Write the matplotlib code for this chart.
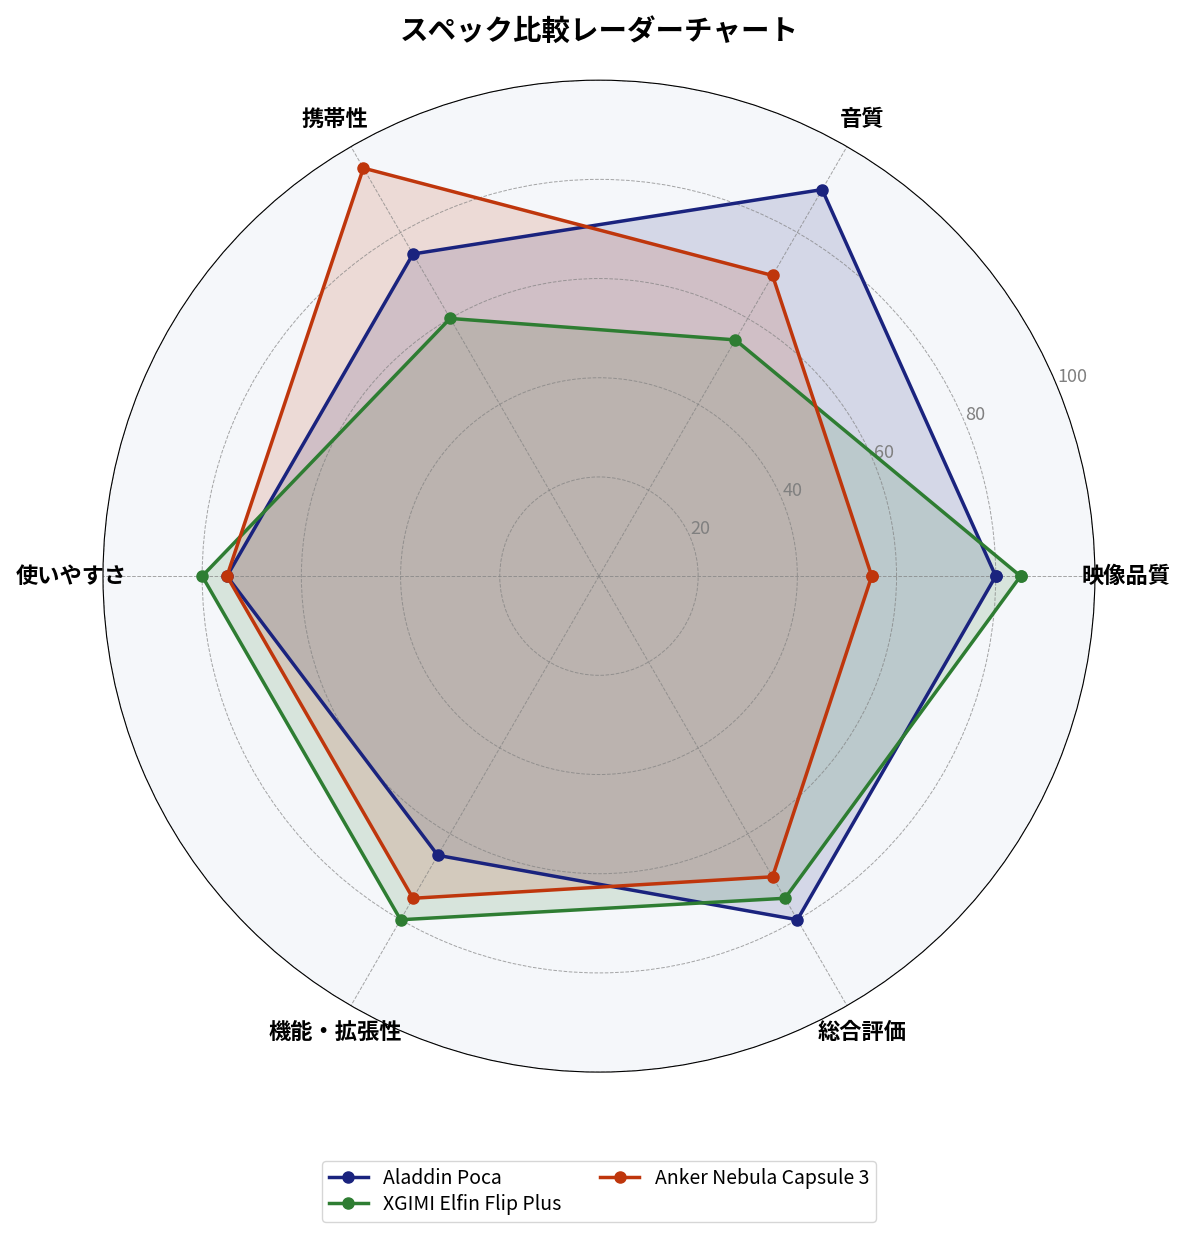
import numpy as np
import matplotlib
matplotlib.use("Agg")
import matplotlib.pyplot as plt

plt.rcParams['font.family'] = ['Noto Sans CJK JP', 'DejaVu Sans']

# データ
categories = ["映像品質", "音質", "携帯性", "使いやすさ", "機能・拡張性", "総合評価"]
names = ["Aladdin Poca", "XGIMI Elfin Flip Plus", "Anker Nebula Capsule 3"]
aladdin = [80, 90, 75, 75, 65, 80]
xgimi = [85, 55, 60, 80, 80, 75]
anker = [55, 70, 95, 75, 75, 70]
colors = ["#1a237e", "#2e7d32", "#bf360c"]
r_ticks = [20, 40, 60, 80, 100]

n = len(categories)
angles = np.linspace(0, 2 * np.pi, n, endpoint=False).tolist()
angles += angles[:1]

fig = plt.figure(figsize=(11.85, 12.39), dpi=100)
ax = fig.add_axes([0.0869, 0.1347, 0.8371, 0.8006], polar=True)
ax.set_facecolor("#f5f7fa")

for name, vals, c in zip(names, [aladdin, xgimi, anker], colors):
    v = vals + vals[:1]
    ax.plot(angles, v, color=c, linewidth=2.5, marker="o", markersize=8, label=name)
    ax.fill(angles, v, color=c, alpha=0.15)

ax.set_ylim(0, 100)
ax.set_yticks(r_ticks)
ax.set_yticklabels([str(t) for t in r_ticks], color="grey", fontsize=13)
ax.set_rlabel_position(22.5)
ax.set_xticks(angles[:-1])
ax.set_xticklabels(categories, fontsize=16, fontweight="bold")
ax.tick_params(axis="x", pad=12)
ax.grid(color="grey", linestyle="--", linewidth=0.7, alpha=0.7)

ax.set_title("スペック比較レーダーチャート", fontsize=20.5, fontweight="bold", pad=29)
ax.legend(loc="upper center", bbox_to_anchor=(0.5, -0.08), ncol=2, fontsize=14,
          labelspacing=0.25, borderpad=0.35)

fig.savefig("out.png", dpi=100)
